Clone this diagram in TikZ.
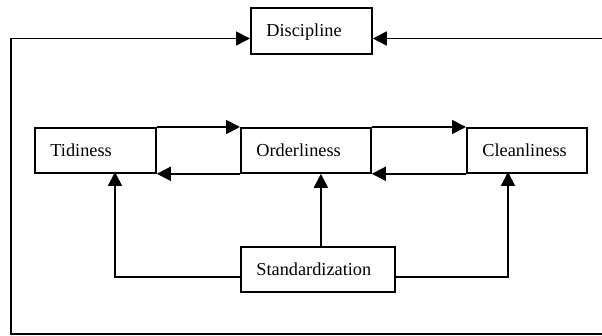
\documentclass[tikz,border=0pt]{standalone}
\usepackage{fontspec}
\setmainfont{Liberation Serif}
\usetikzlibrary{arrows.meta}
\begin{document}
\begin{tikzpicture}[x=1pt,y=-1pt,
  box/.style={draw, line width=1.8pt, anchor=north west, minimum height=45pt,
    inner xsep=15.5pt, inner ysep=0pt, align=left, text depth=1pt,
    font=\fontsize{18.3}{22}\selectfont},
  arr/.style={line width=1.8pt, -{Triangle[length=14pt,width=14pt]}}]
\useasboundingbox (0,0) rectangle (602,336);
\node[box, text width=90pt, minimum height=46pt] (D) at (250,7) {Discipline};
\node[box, text width=90pt] (T) at (34,127) {Tidiness};
\node[box, text width=99pt] (O) at (240,127) {Orderliness};
\node[box, text width=89pt] (C) at (466,127) {Cleanliness};
\node[box, text width=123pt] (S) at (240,246) {Standardization};
% horizontal links
\draw[arr] (T.north east) -- (O.north west);
\draw[arr] (O.south west) -- (T.south east);
\draw[arr] (O.north east) -- (C.north west);
\draw[arr] (C.south west) -- (O.south east);
% standardization links
\coordinate (tT) at (115,172);
\coordinate (tC) at (508,172);
\draw[arr] ([yshift=-7.5pt]S.west) -| (tT);
\draw[arr] ([yshift=-7.5pt]S.east) -| (tC);
\draw[arr] ([xshift=3pt]S.north) -- ([xshift=3pt]S.north |- O.south);
% frame to discipline
\coordinate (R1) at (606,38.5);
\coordinate (R2) at (606,334);
\coordinate (L1) at (11,38.5);
\coordinate (L2) at (11,334);
\draw[arr] (R2) -- (L2) -- (L1) -- (L1 -| D.west);
\draw[arr] (R1) -- (R1 -| D.east);
\end{tikzpicture}
\end{document}
